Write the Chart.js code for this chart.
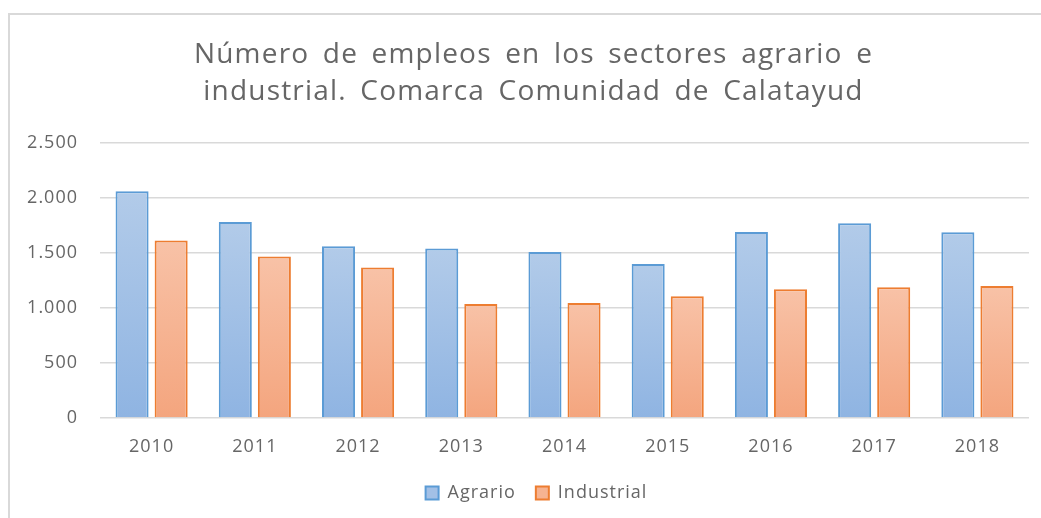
<!DOCTYPE html>
<html>
<head>
<meta charset="utf-8">
<script src="https://cdn.jsdelivr.net/npm/chart.js@4.4.1/dist/chart.umd.min.js"></script>
<style>
    html, body { margin: 0; padding: 0; background: #fff; }
    #wrap { position: relative; width: 1041px; height: 518px; overflow: hidden; }
    #frame {
        position: absolute; left: 8px; top: 13px; width: 1100px; height: 600px;
        border-left: 2px solid #d9d9d9; border-top: 2px solid #d9d9d9;
    }
    canvas { position: absolute; left: 0; top: 0; }
</style>
</head>
<body>
<div id="wrap">
    <div id="frame"></div>
    <canvas id="chart" width="1041" height="518"></canvas>
</div>
<script>
// --- DATA ---
const years = ['2010', '2011', '2012', '2013', '2014', '2015', '2016', '2017', '2018'];
const agrario = [2062, 1782, 1562, 1542, 1510, 1400, 1691, 1770, 1688];
const industrial = [1615, 1468, 1368, 1036, 1046, 1108, 1170, 1188, 1200];
const titleLines = ['Número de empleos en los sectores agrario e', 'industrial. Comarca Comunidad de Calatayud'];

const TEXT = '#666666';
const FONT = "'Open Sans', sans-serif";

// thousands with a dot, like 2.500
const fmt = v => String(v).replace(/\B(?=(\d{3})+(?!\d))/g, '.');

// vertical gradient for each bar, from its top down to the baseline
function barFill(top, bottom) {
    return (ctx) => {
        const chart = ctx.chart;
        const y = chart.scales.y;
        if (!chart.chartArea || !y || ctx.type !== 'data') return bottom;
        const g = chart.ctx.createLinearGradient(0, y.getPixelForValue(ctx.raw), 0, y.getPixelForValue(0));
        g.addColorStop(0, top);
        g.addColorStop(1, bottom);
        return g;
    };
}

const legendFill = ['#a3c0e6', '#f6b391'];

// wrap a box's draw so it renders with its own text tracking and a small x offset
function wrapDraw(chart, box, dx, letter, word) {
    if (!box || box._wrapped) return;
    const orig = box.draw.bind(box);
    box.draw = (...args) => {
        const c = chart.ctx;
        c.save();
        c.translate(dx, 0);
        c.letterSpacing = letter;
        c.wordSpacing = word;
        orig(...args);
        c.restore();
    };
    box._wrapped = true;
}

// Office-like text tracking: a bit of letter spacing everywhere, more on the title
const spacing = {
    id: 'spacing',
    beforeUpdate(chart) { chart.ctx.letterSpacing = '1px'; },
    beforeDraw(chart) {
        chart.ctx.letterSpacing = '1px';
        wrapDraw(chart, chart.titleBlock, 19, '1.2px', '5px');
        wrapDraw(chart, chart.legend, 22, '1px', '0px');
    }
};

new Chart(document.getElementById('chart'), {
    type: 'bar',
    data: {
        labels: years,
        datasets: [
            {
                label: 'Agrario',
                data: agrario,
                backgroundColor: barFill('#b2cbe9', '#8fb4e2'),
                borderColor: '#5b9bd5',
                borderWidth: 2
            },
            {
                label: 'Industrial',
                data: industrial,
                backgroundColor: barFill('#f8c2a7', '#f4a57e'),
                borderColor: '#ed7d31',
                borderWidth: 2
            }
        ]
    },
    plugins: [spacing],
    options: {
        responsive: false,
        animation: false,
        devicePixelRatio: 1,
        layout: { padding: { left: 0, right: 12, top: 0, bottom: 6 } },
        datasets: {
            bar: { categoryPercentage: 0.757, barPercentage: 0.846 }
        },
        plugins: {
            title: {
                display: true,
                text: titleLines,
                color: TEXT,
                font: { family: FONT, size: 28, weight: 'normal', lineHeight: 1.34 },
                padding: { top: 36, bottom: 32 }
            },
            legend: {
                position: 'bottom',
                labels: {
                    color: TEXT,
                    font: { family: FONT, size: 18 },
                    boxWidth: 13,
                    boxHeight: 13,
                    padding: 20,
                    generateLabels: (chart) => {
                        const items = Chart.defaults.plugins.legend.labels.generateLabels(chart);
                        items.forEach((it, i) => {
                            it.fillStyle = legendFill[i];
                            it.lineWidth = 2;
                        });
                        return items;
                    }
                }
            },
            tooltip: { enabled: false }
        },
        scales: {
            x: {
                grid: { display: false },
                border: { display: false },
                ticks: { color: TEXT, font: { family: FONT, size: 18 }, padding: 10 },
                afterFit: (scale) => { scale.height = 46; }
            },
            y: {
                min: 0,
                max: 2500,
                ticks: {
                    stepSize: 500,
                    color: TEXT,
                    font: { family: FONT, size: 18 },
                    padding: 22,
                    callback: (v) => fmt(v)
                },
                grid: { color: '#d9d9d9', lineWidth: 1.5, drawTicks: false },
                border: { display: false },
                afterFit: (scale) => { scale.width = 100; }
            }
        }
    }
});
</script>
</body>
</html>
